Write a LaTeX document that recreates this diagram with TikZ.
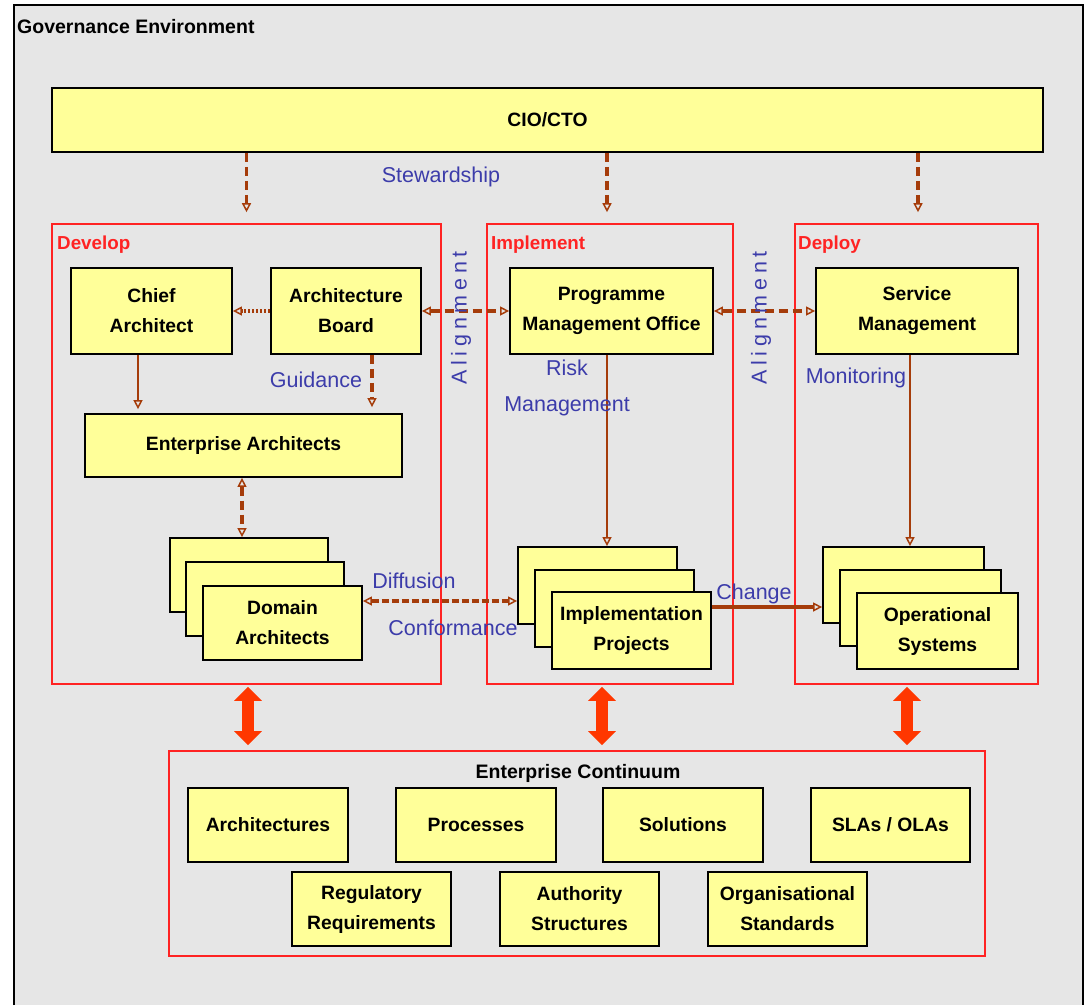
\documentclass[tikz,border=0pt]{standalone}
\usepackage{fontspec}
\setmainfont{Liberation Sans}
\usetikzlibrary{arrows.meta}

\definecolor{bgGrey}{RGB}{230,230,230}
\definecolor{boxYellow}{RGB}{255,255,153}
\definecolor{frameRed}{RGB}{255,35,35}
\definecolor{labelBlue}{RGB}{60,60,170}
\definecolor{linkBrown}{RGB}{165,60,10}
\definecolor{bigRed}{RGB}{255,55,0}

\tikzset{
  ybox/.style={draw=black, line width=1.8pt, fill=boxYellow, inner sep=0pt,
    align=center, font=\fontsize{19.3}{30}\selectfont\bfseries},
  sz/.style 2 args={minimum width=#1, minimum height=#2},
  redframe/.style={draw=frameRed, line width=1.6pt, inner sep=0pt},
  frametitle/.style={text=frameRed, font=\fontsize{18.8}{22}\selectfont\bfseries, inner sep=0pt},
  bluelabel/.style={text=labelBlue, font=\fontsize{21.5}{36}\selectfont, inner sep=0pt, align=center},
  widelabel/.style={bluelabel, font=\fontsize{21.5}{36}\selectfont\addfontfeature{LetterSpace=22}},
  opentip/.tip={Triangle[open, length=9pt, width=9pt, line width=1.5pt]},
  bigtip/.tip={Triangle[length=14pt, width=27pt]},
  dashlink/.style={draw=linkBrown, line width=3.2pt, dash pattern=on 9pt off 5pt},
  dotlink/.style={draw=linkBrown, line width=3.5pt, dash pattern=on 2.5pt off 1.5pt},
  thinlink/.style={draw=linkBrown, line width=1.6pt},
  thicklink/.style={draw=linkBrown, line width=4.5pt},
  bigarrow/.style={draw=bigRed, line width=12pt, bigtip-bigtip},
}

\begin{document}
\begin{tikzpicture}[x=1pt, y=-1pt]
  \useasboundingbox (0,0) rectangle (1085,1005);
  \fill[white] (0,0) rectangle (1085,1005);

  % governance environment panel (open at the bottom)
  \fill[bgGrey] (14,5) rectangle (1083,1005);
  \draw[line width=2pt] (14,1005) -- (14,5) -- (1083,5) -- (1083,1005);
  \node[anchor=west, inner sep=0pt, font=\fontsize{19.5}{22}\selectfont\bfseries] (gov) at (17,27) {Governance Environment};

  % top level
  \node[ybox, sz={991}{64}] (cio) at (547.5,120) {CIO/CTO};

  % develop / implement / deploy frames
  \node[redframe, sz={389}{460}] (dev) at (246.5,454) {};
  \node[redframe, sz={246}{460}] (imp) at (610,454) {};
  \node[redframe, sz={243}{460}] (dep) at (916.5,454) {};
  \node[frametitle, anchor=west] (devt) at (57,245) {Develop};
  \node[frametitle, anchor=west] (impt) at (491,245) {Implement};
  \node[frametitle, anchor=west] (dept) at (798,245) {Deploy};

  % develop contents
  \node[ybox, sz={161}{86}] (chief) at (151.5,311) {Chief\\Architect};
  \node[ybox, sz={150}{86}] (ab) at (346,311) {Architecture\\Board};
  \node[ybox, sz={317}{63}] (ea) at (243.5,445.5) {Enterprise Architects};
  \node[ybox, sz={158}{74}] (domb) at (249,575) {};
  \node[ybox, sz={158}{74}] (domm) at (265,599) {};
  \node[ybox, sz={159}{74}] (domf) at (282.5,623) {Domain\\Architects};

  % implement contents
  \node[ybox, sz={203}{86}] (pmo) at (611.5,311) {Programme\\Management Office};
  \node[ybox, sz={159}{77}] (implb) at (597.5,585.5) {};
  \node[ybox, sz={159}{77}] (implm) at (614.5,608.5) {};
  \node[ybox, sz={159}{77}] (implf) at (631.5,630.5) {Implementation\\Projects};

  % deploy contents
  \node[ybox, sz={202}{86}] (sm) at (917,311) {Service\\Management};
  \node[ybox, sz={161}{76}] (opb) at (903.5,585) {};
  \node[ybox, sz={161}{76}] (opm) at (920.5,608) {};
  \node[ybox, sz={161}{76}] (opf) at (937.5,631) {Operational\\Systems};

  % enterprise continuum
  \node[redframe, sz={816}{205}] (ec) at (577,853.5) {};
  \node[inner sep=0pt, font=\fontsize{19.5}{22}\selectfont\bfseries] (ect) at (578,773) {Enterprise Continuum};
  \node[ybox, sz={160}{74}] (arch) at (268,825) {Architectures};
  \node[ybox, sz={160}{74}] (proc) at (476,825) {Processes};
  \node[ybox, sz={160}{74}] (sol) at (683,825) {Solutions};
  \node[ybox, sz={159}{74}] (sla) at (890.5,825) {SLAs / OLAs};
  \node[ybox, sz={159}{74}] (reg) at (371.5,909) {Regulatory\\Requirements};
  \node[ybox, sz={159}{74}] (auth) at (579.5,909) {Authority\\Structures};
  \node[ybox, sz={159}{74}] (org) at (787.5,909) {Organisational\\Standards};

  % stewardship links
  \draw[dashlink, -opentip] (cio.south -| dev.north) -- ([yshift=11pt]dev.north);
  \draw[dashlink, -opentip] (cio.south -| 607,0) -- ([yshift=11pt]imp.north -| 607,0);
  \draw[dashlink, -opentip] (cio.south -| 918,0) -- ([yshift=11pt]dep.north -| 918,0);

  % develop links
  \draw[dotlink, -opentip] (ab.west) -- (chief.east);
  \draw[dashlink, -opentip] (ab.south -| 372,0) -- ([yshift=6pt]ea.north -| 372,0);
  \draw[thinlink, -opentip] (chief.south -| 138,0) -- ([yshift=4pt]ea.north -| 138,0);
  \draw[dashlink, opentip-opentip] (ea.south -| 242,0) -- (domb.north -| 242,0);

  % alignment links
  \draw[dashlink, opentip-opentip] (ab.east) -- (pmo.west);
  \draw[dashlink, opentip-opentip] (pmo.east) -- (sm.west);

  % implement / deploy links
  \draw[thinlink, -opentip] (pmo.south -| 607,0) -- (implb.north -| 607,0);
  \draw[thinlink, -opentip] (sm.south -| 910,0) -- (opb.north -| 910,0);
  \draw[dashlink, dash pattern=on 7pt off 3pt, opentip-opentip] (domf.east |- 0,601) -- (implb.west |- 0,601);
  \draw[thicklink, -opentip] (implf.east |- 0,607) -- (opb.west |- 0,607);

  % links to the enterprise continuum
  \draw[bigarrow] ([yshift=-2pt]dev.south -| 248,0) -- ([yshift=5pt]ec.north -| 248,0);
  \draw[bigarrow] ([yshift=-2pt]imp.south -| 602,0) -- ([yshift=5pt]ec.north -| 602,0);
  \draw[bigarrow] ([yshift=-2pt]dep.south -| 907,0) -- ([yshift=5pt]ec.north -| 907,0);

  % link labels
  \node[bluelabel] (lstew) at (441,177) {Stewardship};
  \node[widelabel, rotate=90] (lal1) at (461,318) {Alignment};
  \node[widelabel, rotate=90] (lal2) at (761,318) {Alignment};
  \node[bluelabel] (lguid) at (316,380) {Guidance};
  \node[bluelabel] (lrisk) at (567,388) {Risk\\Management};
  \node[bluelabel] (lmon) at (856,378) {Monitoring};
  \node[bluelabel] (ldiff) at (414,581) {Diffusion};
  \node[bluelabel] (lconf) at (453,628) {Conformance};
  \node[bluelabel] (lchg) at (754,594) {Change};
\end{tikzpicture}
\end{document}
